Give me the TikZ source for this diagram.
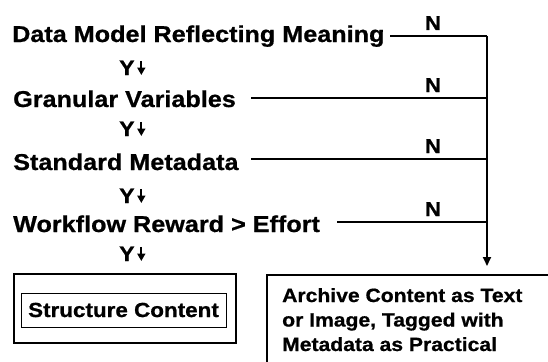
\documentclass[tikz,border=0pt]{standalone}
\usepackage{fontspec}
\setmainfont{Liberation Sans}[FakeStretch=1.1,BoldFeatures={FakeBold=0.8}]
\usetikzlibrary{arrows.meta}
\begin{document}
\begin{tikzpicture}[x=1pt,y=-1pt,
  lab/.style={inner sep=0pt,anchor=base west,font=\fontsize{22.9}{26}\selectfont\bfseries},
  yes/.style={inner sep=0pt,anchor=base west,font=\fontsize{21}{22}\selectfont\bfseries},
  nlab/.style={inner sep=0pt,anchor=base,font=\fontsize{20}{20}\selectfont\bfseries},
  wire/.style={line width=1.8pt},
  ydown/.style={line width=1.8pt,-{Triangle[width=8pt,length=7.5pt]}},
  outerbox/.style={draw,line width=2.2pt},
  innerbox/.style={draw,line width=0.9pt}]
\useasboundingbox (0,0) rectangle (548,361);
\clip (0,0) rectangle (548,361);
% question texts
\node[lab] (dm) at (12,42) {Data Model Reflecting Meaning};
\node[yes] (y1) at (119,75) {Y};
\node[lab] (gv) at (13,107) {Granular Variables};
\node[yes] (y2) at (119,136) {Y};
\node[lab] (sm) at (13,170) {Standard Metadata};
\node[yes] (y3) at (119,203) {Y};
\node[lab] (wf) at (13,232) {Workflow Reward > Effort};
\node[yes] (y4) at (119,261) {Y};
% the small down arrows after each Y
\foreach \n in {y1,y2,y3,y4}{
  \draw[ydown] ([xshift=6.5pt,yshift=-0.5pt]\n.north east) -- ([xshift=6.5pt]\n.base east);
}
% junctions on the vertical line
\coordinate (j1) at (487,36);
\coordinate (j2) at (487,98);
\coordinate (j3) at (487,159);
\coordinate (j4) at (487,222);
\coordinate (tip) at (487,266);
\coordinate (s1) at (390,36);
\coordinate (s2) at (251,98);
\coordinate (s3) at (251,159);
\coordinate (s4) at (337,222);
\draw[wire] (s1) -- (j1);
\draw[wire] (s2) -- (j2);
\draw[wire] (s3) -- (j3);
\draw[wire] (s4) -- (j4);
\draw[wire,-{Triangle[width=8pt,length=9pt]}] (j1) -- (tip);
\node[nlab] (n1) at (433,30) {N};
\node[nlab] (n2) at (433,92) {N};
\node[nlab] (n3) at (433,153) {N};
\node[nlab] (n4) at (433,216) {N};
% bottom boxes
\draw[outerbox] (14,274) rectangle (236,343);
\node[innerbox,minimum width=205pt,minimum height=34pt,inner sep=0pt,
  font=\fontsize{20.4}{24}\selectfont\bfseries] (sc) at (123.5,310) {Structure Content};
\draw[outerbox] (267,275) rectangle (580,400);
\node[inner sep=0pt,anchor=base west,align=left,
  font=\fontsize{19.2}{24.5}\selectfont\bfseries] (ac) at (282,351)
  {Archive Content as Text\\or Image, Tagged with\\Metadata as Practical};
\end{tikzpicture}
\end{document}
